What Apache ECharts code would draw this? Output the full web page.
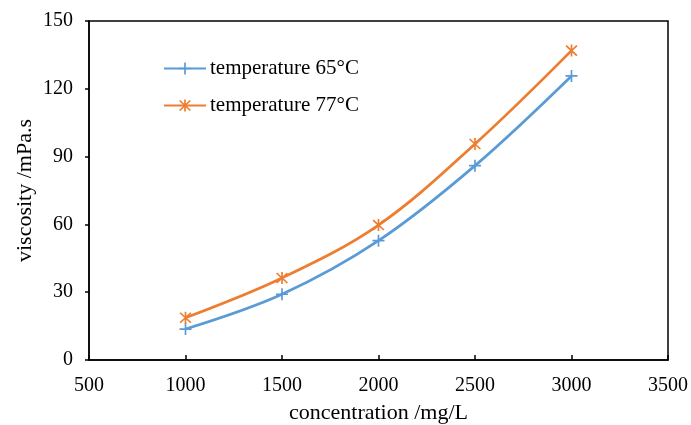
<!DOCTYPE html>
<html><head><meta charset="utf-8">
<script src="https://cdn.jsdelivr.net/npm/echarts@6/dist/echarts.min.js"></script>
<style>html,body{margin:0;padding:0;background:#fff}#c{width:691px;height:425px}</style>
</head><body><div id="c"></div>
<script>
const concentration = [1000, 1500, 2000, 2500, 3000];
const temp65 = [13.7, 29.1, 52.8, 86.0, 125.7];
const temp77 = [18.7, 36.3, 59.7, 95.6, 136.9];
const seriesNames = ['temperature 65\u00B0C', 'temperature 77\u00B0C'];
const xTicks = [500, 1000, 1500, 2000, 2500, 3000, 3500];
const yTicks = [0, 30, 60, 90, 120, 150];

const plusPath = 'path://M4.3,0h1.4v4.3h4.3v1.4h-4.3v4.3h-1.4v-4.3h-4.3v-1.4h4.3z';
const starPath = 'path://M4.35,0h1.3v10h-1.3z M0.4,1.3L1.3,0.4L9.6,8.7L8.7,9.6z M8.7,0.4L9.6,1.3L1.3,9.6L0.4,8.7z';
const font = '"Liberation Serif", "Times New Roman", serif';

const chart = echarts.init(document.getElementById('c'));
chart.setOption({
  animation: false,
  textStyle: {fontFamily: font},
  grid: {left: 89, right: 23, top: 21, bottom: 65, show: true, borderColor: '#000', borderWidth: 1.5,
         containLabel: false, outerBoundsMode: 'none'},
  legend: {
    orient: 'vertical', left: 163, top: 58, itemGap: 16, itemWidth: 42, itemHeight: 15,
    padding: 0,
    textStyle: {fontFamily: font, fontSize: 21, color: '#000', padding: [0, 0, 0, -1]},
    data: seriesNames
  },
  xAxis: {
    type: 'value', min: xTicks[0], max: xTicks[xTicks.length - 1], interval: 500,
    name: 'concentration /mg/L', nameLocation: 'middle', nameGap: 42, nameMoveOverlap: false,
    nameTextStyle: {fontFamily: font, fontSize: 22, color: '#000'},
    axisLine: {lineStyle: {color: '#000', width: 1.5}},
    axisTick: {inside: true, length: 5, lineStyle: {color: '#000', width: 1.5}},
    axisLabel: {fontFamily: font, fontSize: 20, color: '#000', margin: 16, formatter: v => String(v)},
    splitLine: {show: false}
  },
  yAxis: {
    type: 'value', min: yTicks[0], max: yTicks[yTicks.length - 1], interval: 30,
    name: 'viscosity /mPa.s', nameLocation: 'middle', nameGap: 53, nameMoveOverlap: false,
    nameTextStyle: {fontFamily: font, fontSize: 22, color: '#000'},
    axisLine: {lineStyle: {color: '#000', width: 1.5}},
    axisTick: {show: true, length: 4, lineStyle: {color: '#000', width: 1.5}},
    axisLabel: {fontFamily: font, fontSize: 20, color: '#000', margin: 16, formatter: v => String(v)},
    splitLine: {show: false}
  },
  series: [
    {name: seriesNames[0], type: 'line', smooth: 0.35, data: concentration.map((x, i) => [x, temp65[i]]),
     symbol: plusPath, symbolSize: 12, lineStyle: {color: '#5B9BD5', width: 2.75},
     itemStyle: {color: '#5B9BD5'}},
    {name: seriesNames[1], type: 'line', smooth: 0.35, data: concentration.map((x, i) => [x, temp77[i]]),
     symbol: starPath, symbolSize: 12, lineStyle: {color: '#ED7D31', width: 2.75},
     itemStyle: {color: '#ED7D31'}}
  ]
});
</script></body></html>
